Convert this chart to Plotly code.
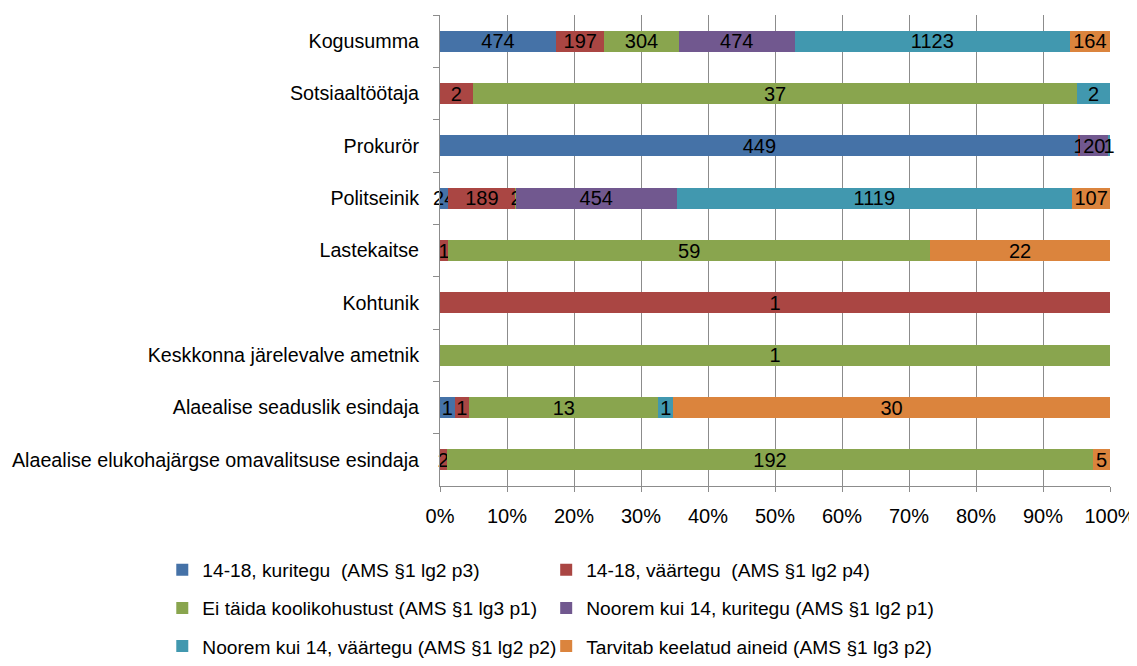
import plotly.graph_objects as go

kategooriad = [
    "Kogusumma",
    "Sotsiaaltöötaja",
    "Prokurör",
    "Politseinik",
    "Lastekaitse",
    "Kohtunik",
    "Keskkonna järelevalve ametnik",
    "Alaealise seaduslik esindaja",
    "Alaealise elukohajärgse omavalitsuse esindaja",
]

seeria_nimed = [
    "14-18, kuritegu  (AMS §1 lg2 p3)",
    "14-18, väärtegu  (AMS §1 lg2 p4)",
    "Ei täida koolikohustust (AMS §1 lg3 p1)",
    "Noorem kui 14, kuritegu (AMS §1 lg2 p1)",
    "Noorem kui 14, väärtegu (AMS §1 lg2 p2)",
    "Tarvitab keelatud aineid (AMS §1 lg3 p2)",
]

kuritegu_14_18 = [474, 0, 449, 24, 0, 0, 0, 1, 0]
vaartegu_14_18 = [197, 2, 1, 189, 1, 1, 0, 1, 2]
koolikohustus = [304, 37, 0, 2, 59, 0, 1, 13, 192]
kuritegu_alla_14 = [474, 0, 20, 454, 0, 0, 0, 0, 0]
vaartegu_alla_14 = [1123, 2, 1, 1119, 0, 0, 0, 1, 0]
keelatud_ained = [164, 0, 0, 107, 22, 0, 0, 30, 5]

varvid = ["#4572A7", "#AA4643", "#89A54E", "#71588F", "#4198AF", "#DB843D"]

FONT = "Liberation Sans, Arial, sans-serif"
HALL = "#8c8c8c"

# one legend per entry so the 2x3 grid sits where the original has it
legendid = ["legend", "legend2", "legend3", "legend4", "legend5", "legend6"]
veerg_x = [-0.4145, 0.1585]
rida_y = [-0.178, -0.259, -0.340]

fig = go.Figure()
andmed = [kuritegu_14_18, vaartegu_14_18, koolikohustus,
          kuritegu_alla_14, vaartegu_alla_14, keelatud_ained]
for nimi, vaartused, varv, leg in zip(seeria_nimed, andmed, varvid, legendid):
    fig.add_trace(go.Bar(
        y=kategooriad,
        x=vaartused,
        name=nimi,
        orientation="h",
        legend=leg,
        marker=dict(color=varv, line=dict(width=0)),
        text=[str(v) if v else "" for v in vaartused],
        textposition="inside",
        insidetextanchor="middle",
        textangle=0,
        constraintext="none",
        cliponaxis=False,
        textfont=dict(color="black", size=20, family=FONT),
    ))

legendid_paigutus = {}
for i, leg in enumerate(legendid):
    legendid_paigutus[leg] = dict(
        orientation="h",
        x=veerg_x[i % 2],
        xanchor="left",
        y=rida_y[i // 2],
        yanchor="middle",
        font=dict(size=19.2, family=FONT, color="black"),
        bgcolor="rgba(0,0,0,0)",
    )

fig.update_layout(
    barmode="stack",
    barnorm="percent",
    bargap=0.6,
    width=1129,
    height=658,
    margin=dict(l=432, r=27, t=7, b=180, autoexpand=False),
    plot_bgcolor="white",
    paper_bgcolor="white",
    font=dict(family=FONT, size=20, color="black"),
    uniformtext=dict(minsize=20, mode="show"),
    showlegend=True,
    **legendid_paigutus,
)
fig.update_xaxes(
    range=[0, 100],
    tickvals=[0, 10, 20, 30, 40, 50, 60, 70, 80, 90, 100],
    ticktext=["0%", "10%", "20%", "30%", "40%", "50%", "60%", "70%", "80%", "90%", "100%"],
    showgrid=True,
    gridcolor=HALL,
    gridwidth=1,
    showline=True,
    linecolor=HALL,
    ticks="outside",
    ticklen=5,
    tickcolor=HALL,
    ticklabelstandoff=7,
    zeroline=False,
)
fig.update_yaxes(
    autorange="reversed",
    showline=True,
    linecolor=HALL,
    ticks="outside",
    tickson="boundaries",
    ticklen=6,
    tickcolor=HALL,
    ticklabelstandoff=16,
    tickfont=dict(size=19.7),
    showgrid=False,
)

fig.write_html("out.html")
